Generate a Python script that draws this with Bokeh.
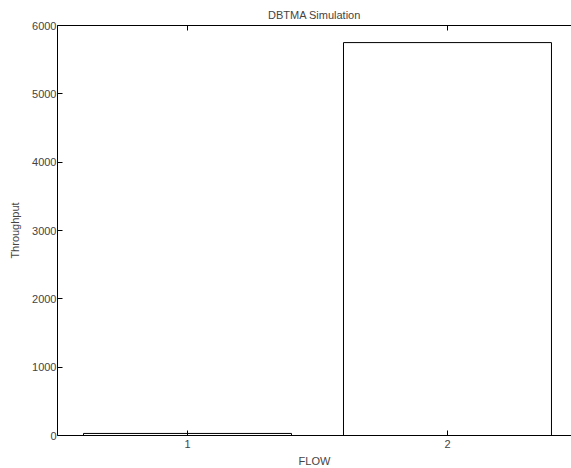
from bokeh.plotting import figure
from bokeh.models import LinearAxis, FixedTicker, Range1d
from bokeh.embed import file_html
from bokeh.resources import INLINE

flows = [1, 2]
throughput = [30, 5750]
y_ticks = [0, 1000, 2000, 3000, 4000, 5000, 6000]

FONT = "Liberation Sans"

p = figure(width=571, height=468, output_backend="svg", toolbar_location=None,
           x_range=Range1d(0.5, 2.477), y_range=Range1d(0, 6000),
           min_border_left=57, min_border_right=0, min_border_top=25, min_border_bottom=33,
           title="DBTMA Simulation", x_axis_label="FLOW", y_axis_label="Throughput")
p.frame_width = 514
p.frame_height = 410
p.outline_line_color = None
p.xgrid.visible = False
p.ygrid.visible = False
p.background_fill_color = "white"

p.title.text_font = FONT
p.title.text_font_size = "11px"
p.title.text_font_style = "normal"
p.title.align = "center"
p.title.standoff = 10
p.title.offset = 0

p.vbar(x=flows, top=throughput, width=0.8, bottom=0, fill_color="white",
       line_color="black", line_width=1)

for ax in [p.xaxis[0], p.yaxis[0]]:
    ax.major_tick_in = 5
    ax.major_tick_out = 0
    ax.minor_tick_in = 0
    ax.minor_tick_out = 0
    ax.axis_line_color = "black"
    ax.axis_line_width = 1
    ax.major_label_text_font = FONT
    ax.major_label_text_font_size = "11px"
    ax.axis_label_text_font = FONT
    ax.axis_label_text_font_size = "11px"
    ax.axis_label_text_font_style = "normal"
    ax.major_label_standoff = 4

p.xaxis[0].ticker = FixedTicker(ticks=flows)
p.yaxis[0].ticker = FixedTicker(ticks=y_ticks)
p.xaxis[0].axis_label_standoff = 4
p.yaxis[0].major_label_standoff = 1
p.yaxis[0].axis_label_standoff = 8

top_ax = LinearAxis(ticker=FixedTicker(ticks=flows), major_label_text_font_size="0px",
                    major_tick_in=5, major_tick_out=0, minor_tick_in=0, minor_tick_out=0,
                    axis_line_color="black", major_label_standoff=0)
top_ax.major_label_text_alpha = 0
p.add_layout(top_ax, "above")

open("out.html", "w").write(file_html(p, INLINE))
